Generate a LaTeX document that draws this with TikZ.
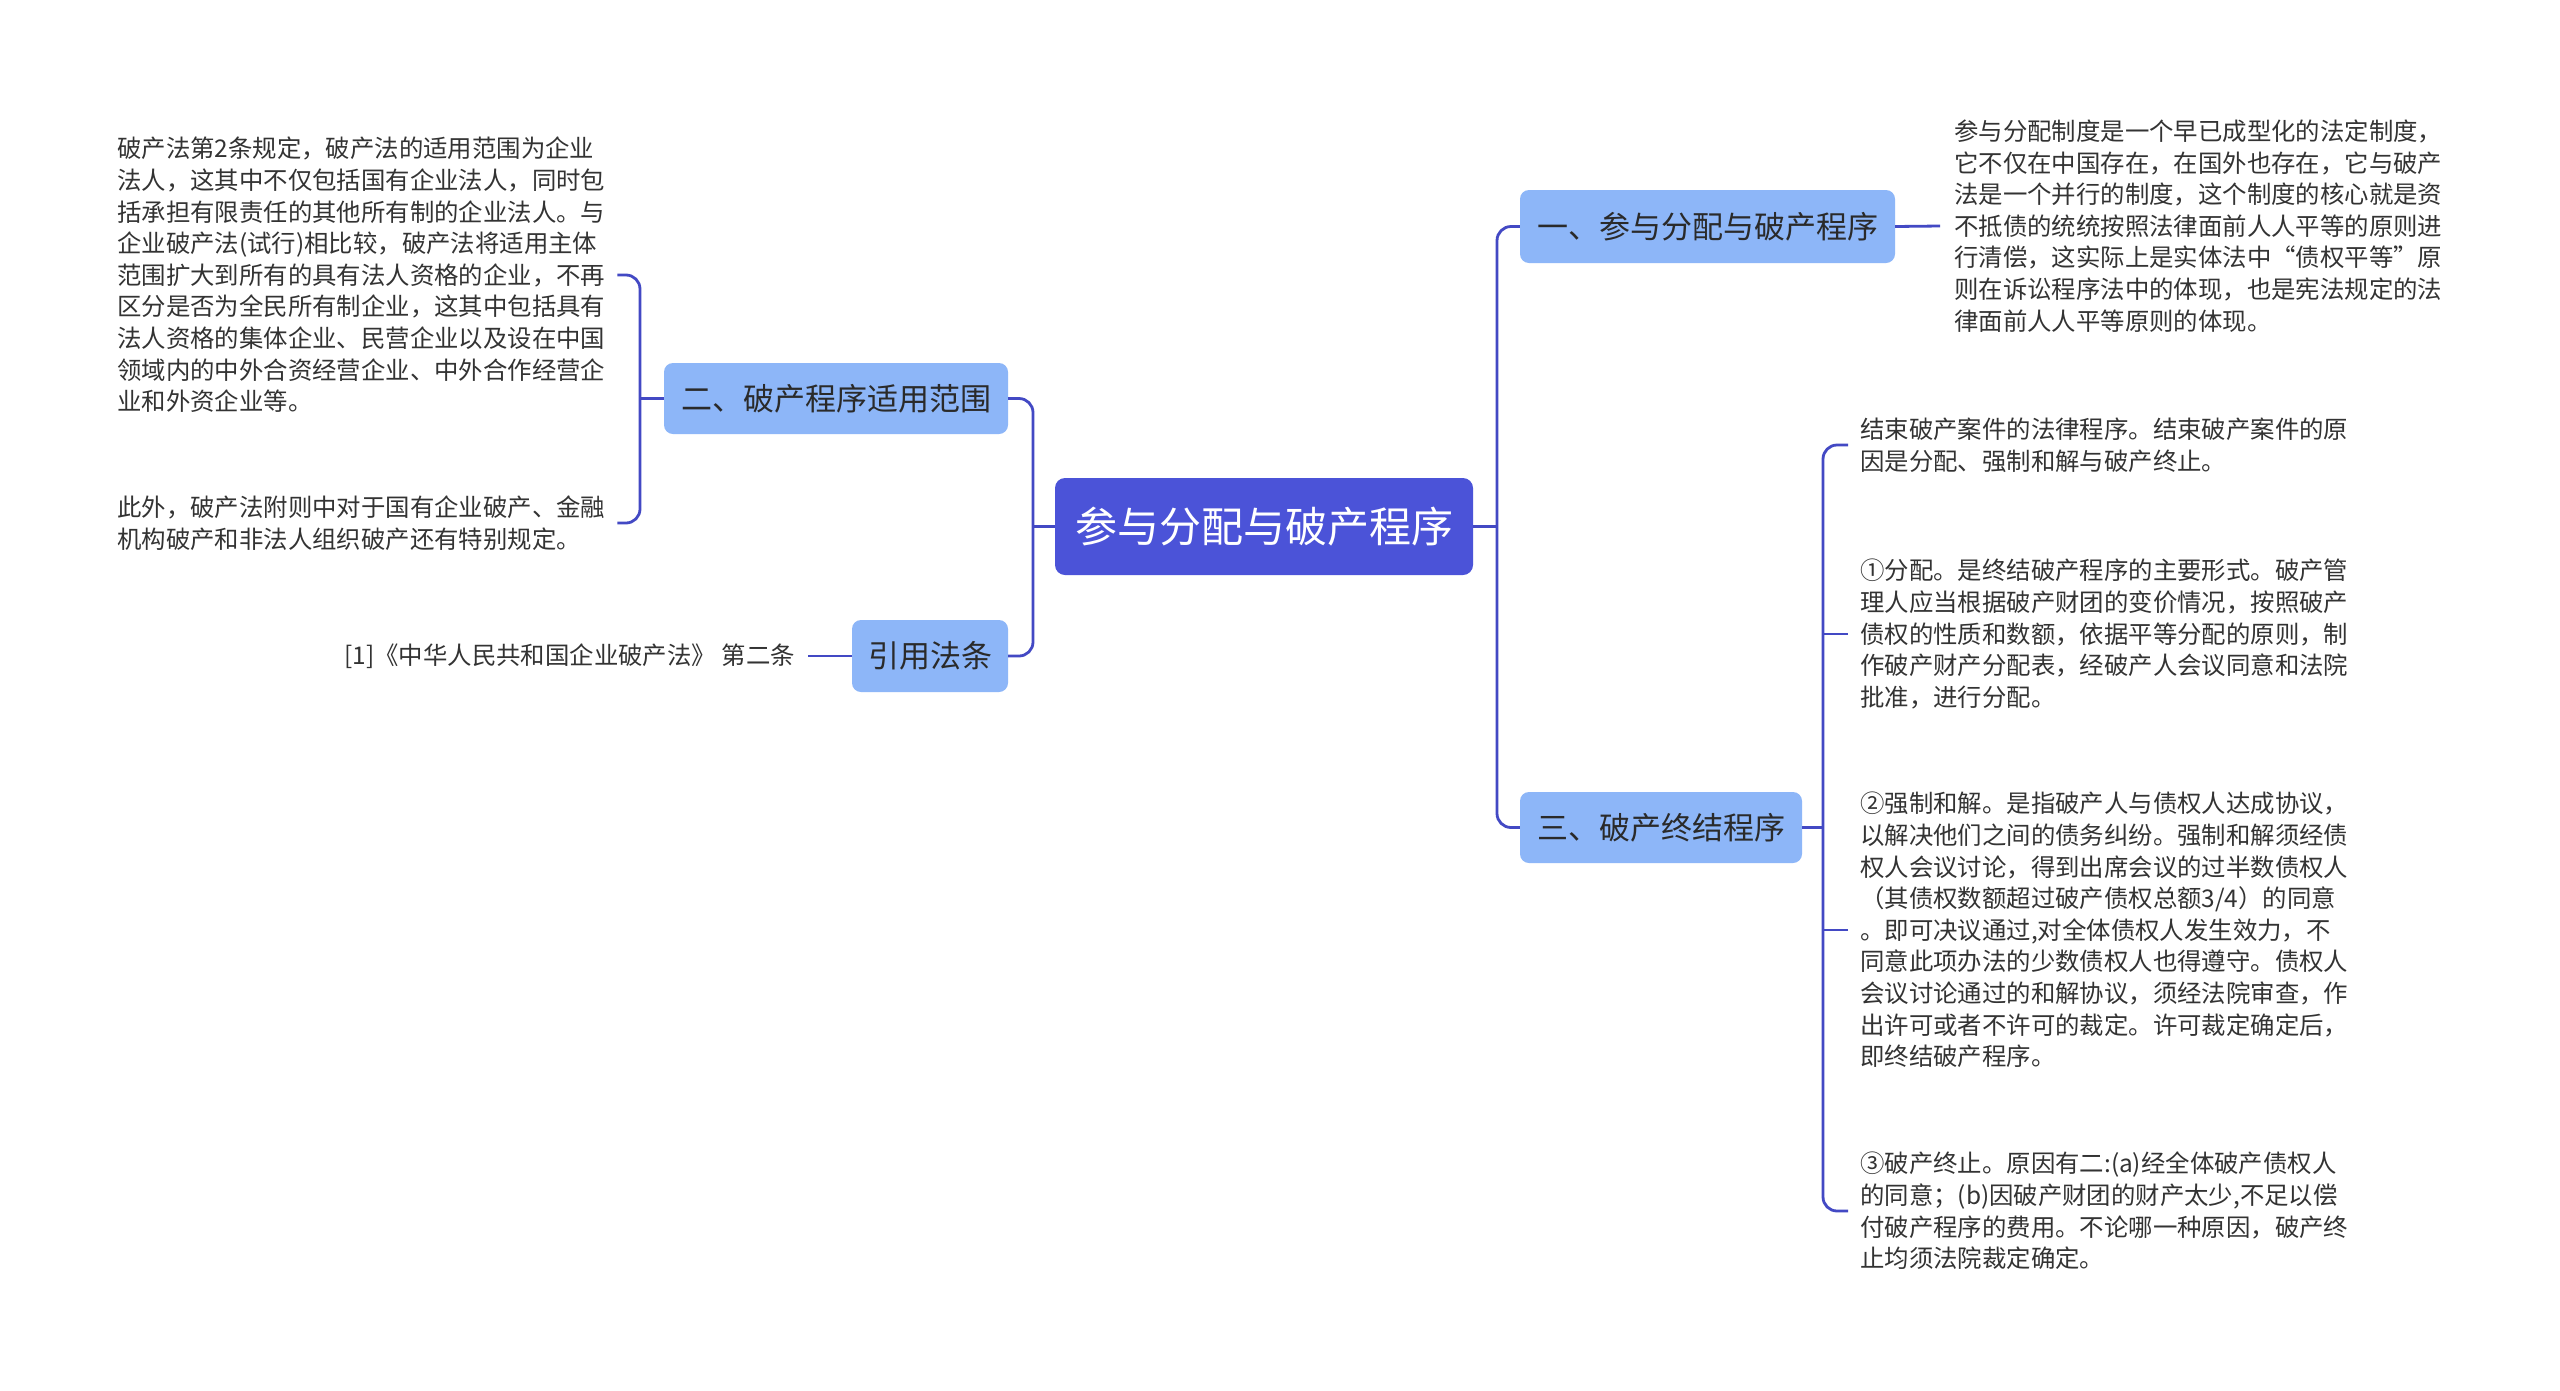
\documentclass[tikz,border=0pt]{standalone}
\usepackage{fontspec}
\setmainfont{Noto Sans CJK SC}
\definecolor{rootc}{HTML}{4B53D8}
\definecolor{brc}{HTML}{8DB6F8}
\definecolor{linec}{HTML}{4349C4}
\definecolor{txt}{HTML}{2A2A2A}
\definecolor{leaftxt}{HTML}{333333}
\begin{document}
\begin{tikzpicture}[x=1pt,y=-1pt,
  conn/.style={draw=linec,line width=2.8pt,rounded corners=14pt},
  rootbox/.style={fill=rootc,rounded corners=10pt,text=white,font=\fontsize{42}{50}\selectfont,minimum width=418pt,minimum height=97pt,inner sep=0pt},
  brbox/.style={fill=brc,rounded corners=9pt,text=txt,font=\fontsize{31}{38}\selectfont,inner sep=0pt},
  leaf/.style={align=left,text=leaftxt,font=\fontsize{24.4}{31.6}\selectfont,inner xsep=12pt,inner ysep=4pt}]
\path[use as bounding box, fill=white] (0,0) rectangle (2560,1390);

% main and branch nodes
\node[rootbox] (root) at (1264,526.5) {参与分配与破产程序};
\node[brbox,minimum width=375pt,minimum height=73pt] (b1) at (1707.5,226.5) {一、参与分配与破产程序};
\node[brbox,minimum width=282pt,minimum height=71pt] (b3) at (1661,827.5) {三、破产终结程序};
\node[brbox,minimum width=344pt,minimum height=71pt] (b2) at (836,398.5) {二、破产程序适用范围};
\node[brbox,minimum width=156pt,minimum height=72pt] (b4) at (930,656) {引用法条};

% leaves
\node[leaf,anchor=west] (l1) at (105,275) {破产法第2条规定，破产法的适用范围为企业\\
法人，这其中不仅包括国有企业法人，同时包\\
括承担有限责任的其他所有制的企业法人。与\\
企业破产法(试行)相比较，破产法将适用主体\\
范围扩大到所有的具有法人资格的企业，不再\\
区分是否为全民所有制企业，这其中包括具有\\
法人资格的集体企业、民营企业以及设在中国\\
领域内的中外合资经营企业、中外合作经营企\\
业和外资企业等。};
\node[leaf,anchor=west] (l2) at (105,523) {此外，破产法附则中对于国有企业破产、金融\\
机构破产和非法人组织破产还有特别规定。};
\node[leaf,anchor=east,inner xsep=13pt] (lc) at (808,656) {[1]《中华人民共和国企业破产法》 第二条};
\node[leaf,anchor=west,inner xsep=14pt] (t1) at (1940,226) {参与分配制度是一个早已成型化的法定制度，\\
它不仅在中国存在，在国外也存在，它与破产\\
法是一个并行的制度，这个制度的核心就是资\\
不抵债的统统按照法律面前人人平等的原则进\\
行清偿，这实际上是实体法中“债权平等”原\\
则在诉讼程序法中的体现，也是宪法规定的法\\
律面前人人平等原则的体现。};
\node[leaf,anchor=west] (r1) at (1848,445) {结束破产案件的法律程序。结束破产案件的原\\
因是分配、强制和解与破产终止。};
\node[leaf,anchor=west] (r2) at (1848,634) {①分配。是终结破产程序的主要形式。破产管\\
理人应当根据破产财团的变价情况，按照破产\\
债权的性质和数额，依据平等分配的原则，制\\
作破产财产分配表，经破产人会议同意和法院\\
批准，进行分配。};
\node[leaf,anchor=west] (r3) at (1848,930) {②强制和解。是指破产人与债权人达成协议，\\
以解决他们之间的债务纠纷。强制和解须经债\\
权人会议讨论，得到出席会议的过半数债权人\\
（其债权数额超过破产债权总额3/4）的同意\\
。即可决议通过,对全体债权人发生效力，不\\
同意此项办法的少数债权人也得遵守。债权人\\
会议讨论通过的和解协议，须经法院审查，作\\
出许可或者不许可的裁定。许可裁定确定后，\\
即终结破产程序。};
\node[leaf,anchor=west] (r4) at (1848,1211) {③破产终止。原因有二:(a)经全体破产债权人\\
的同意；(b)因破产财团的财产太少,不足以偿\\
付破产程序的费用。不论哪一种原因，破产终\\
止均须法院裁定确定。};

% junctions
\coordinate (jl) at (1033,526.5);
\coordinate (jr) at (1497,526.5);
\coordinate (j2) at (640,398.5);
\coordinate (j3) at (1823,827.5);

% connectors
\draw[conn] (root.west) -- (jl);
\draw[conn] (b2.east) -| (jl) |- (b4.east);
\draw[conn] (root.east) -- (jr);
\draw[conn] (b1.west) -| (jr) |- (b3.west);
\draw[conn] (b2.west) -- (j2);
\draw[conn] (l1.east) -| (j2) |- (l2.east);
\draw[conn] (b4.west) -- (lc.east);
\draw[conn] (b1.east) -- (t1.west);
\draw[conn] (b3.east) -- (j3);
\draw[conn] (r1.west) -| (j3) |- (r4.west);
\draw[conn] (r2.west) -- (r2.west -| j3);
\draw[conn] (r3.west) -- (r3.west -| j3);
\end{tikzpicture}
\end{document}
